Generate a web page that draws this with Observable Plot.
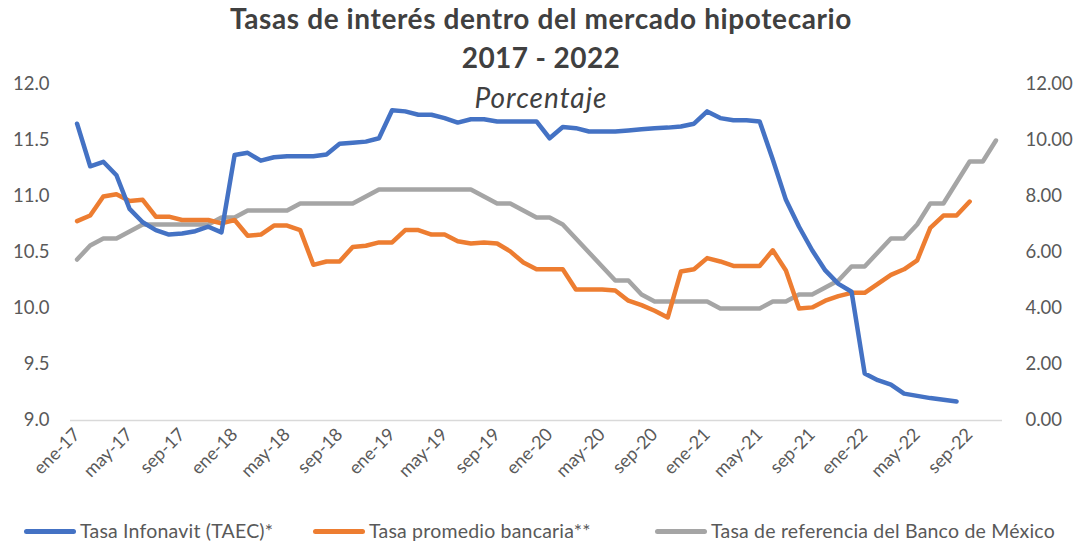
<!DOCTYPE html>
<html><head><meta charset="utf-8">
<script src="https://cdn.jsdelivr.net/npm/d3@7"></script>
<script src="https://cdn.jsdelivr.net/npm/@observablehq/plot@0.6"></script>
<style>
body{margin:0;background:#fff;font-family:Lato,"Open Sans",sans-serif;}
#wrap{position:relative;width:1082px;height:541px;overflow:hidden;background:#fff}
.t{position:absolute;left:0;width:1082px;text-align:center;color:#404040;white-space:nowrap;line-height:1}
.leg{position:absolute;top:520px;display:flex;align-items:center;font-size:19.5px;letter-spacing:0.2px;color:#595959;white-space:nowrap;line-height:22px}
.sw{display:inline-block;width:52px;height:5px;border-radius:3px;margin-right:4px}
</style></head><body><div id="wrap"></div>
<script>
// Categories
const meses = ["ene","feb","mar","abr","may","jun","jul","ago","sep","oct","nov","dic"];
const anios = ["17","18","19","20","21","22"];
const categorias = anios.flatMap(a => meses.map(m => `${m}-${a}`)).slice(0, 71);

// Tasa Infonavit (TAEC)* — left axis, ene-17 .. ago-22
const infonavit = [
  11.65,11.27,11.31,11.19,10.89,10.77,10.70,10.66,10.67,10.69,10.73,10.68,
  11.37,11.39,11.32,11.35,11.36,11.36,11.36,11.375,11.47,11.48,11.49,11.52,
  11.77,11.76,11.73,11.73,11.70,11.66,11.69,11.69,11.67,11.67,11.67,11.67,
  11.52,11.62,11.61,11.58,11.58,11.58,11.59,11.60,11.61,11.615,11.625,11.65,
  11.76,11.70,11.68,11.68,11.67,11.33,10.97,10.73,10.52,10.34,10.22,10.15,
  9.42,9.36,9.32,9.24,9.22,9.20,9.185,9.17
];
// Tasa promedio bancaria** — left axis, ene-17 .. sep-22
const bancaria = [
  10.78,10.83,11.00,11.02,10.96,10.97,10.82,10.82,10.79,10.79,10.79,10.76,
  10.79,10.65,10.66,10.74,10.74,10.70,10.39,10.42,10.42,10.55,10.56,10.59,
  10.59,10.70,10.70,10.66,10.66,10.60,10.58,10.59,10.58,10.51,10.41,10.35,
  10.35,10.35,10.17,10.17,10.17,10.16,10.07,10.03,9.98,9.92,10.33,10.35,
  10.45,10.42,10.38,10.38,10.38,10.52,10.34,10.00,10.01,10.07,10.11,10.14,
  10.14,10.22,10.30,10.35,10.43,10.72,10.83,10.83,10.955
];
// Tasa de referencia del Banco de México — right axis, ene-17 .. nov-22
const banxico = [
  5.75,6.25,6.5,6.5,6.75,7.0,7.0,7.0,7.0,7.0,7.0,7.25,
  7.25,7.5,7.5,7.5,7.5,7.75,7.75,7.75,7.75,7.75,8.0,8.25,
  8.25,8.25,8.25,8.25,8.25,8.25,8.25,8.0,7.75,7.75,7.5,7.25,
  7.25,7.0,6.5,6.0,5.5,5.0,5.0,4.5,4.25,4.25,4.25,4.25,
  4.25,4.0,4.0,4.0,4.0,4.25,4.25,4.5,4.5,4.75,5.0,5.5,
  5.5,6.0,6.5,6.5,7.0,7.75,7.75,8.5,9.25,9.25,10.0
];
const leftTicks = [9.0,9.5,10.0,10.5,11.0,11.5,12.0];
const rightTicks = [0,2,4,6,8,10,12];
const xTickIdx = d3.range(0, 71, 4);

const toLeft = v => 9 + v / 4;   // right axis 0..12 onto left axis 9..12

const chart = Plot.plot({
  width: 1082, height: 541,
  marginLeft: 70, marginRight: 80, marginTop: 84, marginBottom: 121,
  x: {type: "linear", domain: [-0.5, 70.5], axis: null},
  y: {domain: [9, 12], axis: null},
  style: {fontFamily: "Lato, 'Open Sans', sans-serif", color: "#595959", background: "white", overflow: "visible"},
  marks: [
    Plot.ruleY([9], {stroke: "#d9d9d9", strokeWidth: 1.5}),
    Plot.axisY({ticks: leftTicks, tickSize: 0, tickPadding: 21, tickFormat: d => d.toFixed(1), fontSize: 18.5}),
    Plot.axisY({anchor: "right", ticks: rightTicks.map(toLeft), tickSize: 0, tickPadding: 23,
      tickFormat: d => ((d - 9) * 4).toFixed(2), fontSize: 18.5}),
    Plot.axisX({ticks: xTickIdx, tickFormat: i => categorias[i], tickRotate: -45, tickSize: 0, tickPadding: 11, fontSize: 18}),
    Plot.line(banxico, {x: (d, i) => i, y: d => toLeft(d), stroke: "#A5A5A5", strokeWidth: 4.5, strokeLinecap: "round", strokeLinejoin: "round"}),
    Plot.line(bancaria, {x: (d, i) => i, y: d => d, stroke: "#ED7D31", strokeWidth: 4.5, strokeLinecap: "round", strokeLinejoin: "round"}),
    Plot.line(infonavit, {x: (d, i) => i, y: d => d, stroke: "#4472C4", strokeWidth: 4.5, strokeLinecap: "round", strokeLinejoin: "round"})
  ]
});
const wrap = document.getElementById("wrap");
wrap.appendChild(chart);
chart.style.position = "absolute"; chart.style.left = "0"; chart.style.top = "0";

const titles = [
  {text: "Tasas de interés dentro del mercado hipotecario", top: 4, style: "font-weight:700;font-size:28px;letter-spacing:0.6px"},
  {text: "2017 - 2022", top: 43, style: "font-weight:700;font-size:28px;letter-spacing:0.4px"},
  {text: "Porcentaje", top: 83, style: "font-style:italic;font-size:28px;letter-spacing:1px"}
];
for (const t of titles) {
  const d = document.createElement("div");
  d.className = "t"; d.textContent = t.text; d.style.cssText += `top:${t.top}px;${t.style}`;
  wrap.appendChild(d);
}
const legend = [
  {label: "Tasa Infonavit (TAEC)*", color: "#4472C4", left: 24},
  {label: "Tasa promedio bancaria**", color: "#ED7D31", left: 313},
  {label: "Tasa de referencia del Banco de México", color: "#A5A5A5", left: 655}
];
for (const l of legend) {
  const d = document.createElement("div");
  d.className = "leg"; d.style.left = l.left + "px";
  d.innerHTML = `<span class="sw" style="background:${l.color}"></span><span>${l.label}</span>`;
  wrap.appendChild(d);
}
</script></body></html>
